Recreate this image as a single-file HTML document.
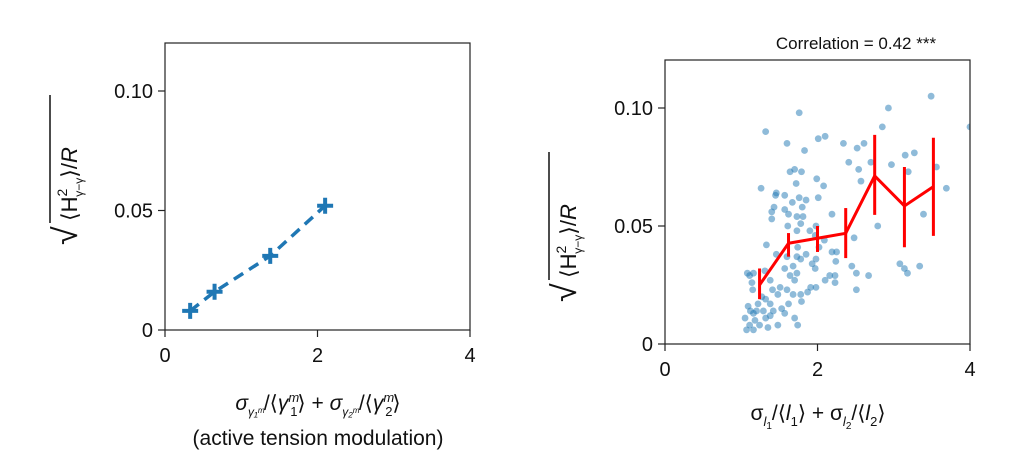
<!DOCTYPE html>
<html><head><meta charset="utf-8"><style>
html,body{margin:0;padding:0;background:#fff;}
svg{display:block;font-family:"Liberation Sans",sans-serif;}
</style></head><body>
<svg id="chart" width="1036" height="453" viewBox="0 0 1036 453" xmlns="http://www.w3.org/2000/svg">
<g id="left"></g>
<g id="right"></g>
<text x="856" y="49" font-size="17" text-anchor="middle" fill="#111">Correlation = 0.42 ***</text>
<g transform="translate(77,205) rotate(-90)" font-size="22" fill="#111">
<text x="-40" y="0" font-size="34">√</text>
<line x1="-18" y1="-27" x2="110" y2="-27" stroke="#111" stroke-width="1.5"/>
<text x="-16" y="0">⟨H<tspan font-size="14" dy="-10">2</tspan><tspan font-size="12" dx="-8" dy="16">γ−γ</tspan><tspan dy="-6">⟩/</tspan><tspan font-style="italic">R</tspan></text>
</g>
<g transform="translate(576,262) rotate(-90)" font-size="22" fill="#111">
<text x="-40" y="0" font-size="34">√</text>
<line x1="-18" y1="-27" x2="110" y2="-27" stroke="#111" stroke-width="1.5"/>
<text x="-16" y="0">⟨H<tspan font-size="14" dy="-10">2</tspan><tspan font-size="12" dx="-8" dy="16">γ−γ</tspan><tspan dy="-6">⟩/</tspan><tspan font-style="italic">R</tspan></text>
</g>
<text x="318" y="410" font-size="21" text-anchor="middle" fill="#111"><tspan font-style="italic">σ</tspan><tspan font-size="12" dy="6" font-style="italic">γ₁ᵐ</tspan><tspan dy="-6">/⟨</tspan><tspan font-style="italic">γ</tspan><tspan font-size="13" dy="-8" font-style="italic">m</tspan><tspan font-size="13" dx="-9" dy="14">1</tspan><tspan dy="-6">⟩ + </tspan><tspan font-style="italic">σ</tspan><tspan font-size="12" dy="6" font-style="italic">γ₂ᵐ</tspan><tspan dy="-6">/⟨</tspan><tspan font-style="italic">γ</tspan><tspan font-size="13" dy="-8" font-style="italic">m</tspan><tspan font-size="13" dx="-9" dy="14">2</tspan><tspan dy="-6">⟩</tspan></text>
<text x="318" y="445" font-size="21" text-anchor="middle" fill="#111">(active tension modulation)</text>
<text x="818" y="420" font-size="21" text-anchor="middle" fill="#111">σ<tspan font-size="13" dy="6" font-style="italic">l</tspan><tspan font-size="10" dy="3">1</tspan><tspan dy="-9">/⟨</tspan><tspan font-style="italic">l</tspan><tspan font-size="13" dy="6">1</tspan><tspan dy="-6">⟩ + σ</tspan><tspan font-size="13" dy="6" font-style="italic">l</tspan><tspan font-size="10" dy="3">2</tspan><tspan dy="-9">/⟨</tspan><tspan font-style="italic">l</tspan><tspan font-size="13" dy="6">2</tspan><tspan dy="-6">⟩</tspan></text>
</svg>
<script>
// Left panel data
const leftX = [0.33, 0.65, 1.38, 2.1];
const leftY = [0.008, 0.016, 0.031, 0.052];
// Right panel binned means
const binX = [1.24, 1.62, 2.0, 2.37, 2.75, 3.14, 3.52];
const binY = [0.025, 0.0427, 0.0448, 0.0469, 0.0712, 0.0585, 0.0667];
const binLo = [0.019, 0.037, 0.039, 0.0364, 0.0547, 0.041, 0.0458];
const binHi = [0.032, 0.047, 0.050, 0.0576, 0.0886, 0.075, 0.0874];
// Scatter
const scatX = [3.49,2.93,1.76,1.32,2.85,4.0,2.01,2.10,1.60,1.83,2.34,2.52,2.61,3.27,3.15,2.41,2.70,2.97,3.56,2.54,3.19,1.64,1.70,1.79,1.99,2.57,2.08,1.72,3.69,1.26,1.46,1.45,1.57,1.76,1.85,2.01,1.67,1.43,1.80,1.57,1.40,1.62,1.73,1.81,2.19,1.40,1.78,1.61,1.98,3.39,2.79,1.73,1.90,1.97,2.48,1.33,2.02,2.09,1.74,1.46,1.85,1.73,1.60,1.98,1.93,1.78,2.19,2.25,2.24,2.45,2.51,2.67,3.08,3.14,3.18,3.34,1.08,1.11,1.16,1.31,1.14,1.38,1.57,1.68,1.64,1.73,1.70,1.97,2.16,2.23,2.23,2.10,1.98,1.91,1.87,1.78,1.68,1.60,1.51,1.48,1.41,1.15,1.27,1.32,1.38,1.22,1.09,1.12,1.16,1.20,1.29,1.42,1.53,1.57,1.62,1.79,2.51,1.05,1.18,1.32,1.38,1.70,1.11,1.24,1.35,1.48,1.74,1.07,1.16];
const scatY = [0.105,0.100,0.098,0.090,0.092,0.092,0.087,0.088,0.085,0.082,0.085,0.083,0.085,0.081,0.080,0.077,0.077,0.076,0.075,0.074,0.073,0.073,0.074,0.073,0.070,0.069,0.067,0.068,0.066,0.066,0.064,0.063,0.063,0.062,0.061,0.062,0.060,0.058,0.058,0.057,0.056,0.055,0.054,0.054,0.055,0.053,0.051,0.050,0.050,0.055,0.050,0.048,0.048,0.046,0.045,0.042,0.041,0.044,0.041,0.038,0.038,0.037,0.037,0.036,0.034,0.036,0.039,0.039,0.035,0.033,0.030,0.029,0.034,0.032,0.030,0.033,0.030,0.029,0.030,0.031,0.026,0.027,0.032,0.033,0.029,0.030,0.027,0.032,0.029,0.029,0.026,0.027,0.024,0.024,0.022,0.021,0.021,0.023,0.024,0.021,0.023,0.023,0.020,0.019,0.017,0.017,0.016,0.014,0.013,0.014,0.014,0.014,0.015,0.013,0.017,0.018,0.023,0.011,0.010,0.011,0.012,0.011,0.008,0.008,0.007,0.008,0.008,0.006,0.006];
const xTicks = [0, 2, 4];
const yTicks = [0, 0.05, 0.10];
const yTickLabels = ["0", "0.05", "0.10"];

const NS = "http://www.w3.org/2000/svg";
function mk(parent, tag, attrs) {
  const e = document.createElementNS(NS, tag);
  for (const k in attrs) e.setAttribute(k, attrs[k]);
  parent.appendChild(e);
  return e;
}
function axes(g, box, sx, sy, prefix) {
  const f = mk(g, "rect", {x: box.x0, y: box.y1, width: box.x1 - box.x0, height: box.y0 - box.y1, fill: "none", stroke: "#222", "stroke-width": 1.2});
  
  
  xTicks.forEach(t => {
    const l = mk(g, "line", {x1: sx(t), x2: sx(t), y1: box.y0, y2: box.y0 + 7, stroke: "#222", "stroke-width": 1.2});
    
    
    const tx = mk(g, "text", {x: sx(t), y: box.y0 + 32, "font-size": 20, "text-anchor": "middle", fill: "#111"});
    tx.textContent = String(t);
    
    
  });
  yTicks.forEach((t, i) => {
    const l = mk(g, "line", {x1: box.x0 - 7, x2: box.x0, y1: sy(t), y2: sy(t), stroke: "#222", "stroke-width": 1.2});
    
    
    const tx = mk(g, "text", {x: box.x0 - 12, y: sy(t) + 7, "font-size": 20, "text-anchor": "end", fill: "#111"});
    tx.textContent = yTickLabels[i];
    
    
  });
}
// Left
const LB = {x0: 165, x1: 470, y0: 330, y1: 43};
const lsx = v => LB.x0 + v / 4 * (LB.x1 - LB.x0);
const lsy = v => LB.y0 - v / 0.05 * 119.5;
const lg = document.getElementById("left");
axes(lg, LB, lsx, lsy, "left");
const lline = mk(lg, "polyline", {points: leftX.map((x, i) => lsx(x) + "," + lsy(leftY[i])).join(" "), fill: "none", stroke: "#1f77b4", "stroke-width": 3.5, "stroke-dasharray": "11,7"});


leftX.forEach((x, i) => {
  const cx = lsx(x), cy = lsy(leftY[i]);
  const p = mk(lg, "path", {d: `M${cx-8},${cy}H${cx+8}M${cx},${cy-8}V${cy+8}`, stroke: "#1f77b4", "stroke-width": 4});
  
  
});
// Right
const RB = {x0: 665, x1: 970, y0: 344, y1: 60};
const rsx = v => RB.x0 + v / 4 * (RB.x1 - RB.x0);
const rsy = v => RB.y0 - v / 0.10 * 236;
const rg = document.getElementById("right");
const clip = mk(rg, "clipPath", {id: "rclip"});
mk(clip, "rect", {x: RB.x0, y: RB.y1, width: RB.x1 - RB.x0, height: RB.y0 - RB.y1});
const pts = mk(rg, "g", {"clip-path": "url(#rclip)"});


scatX.forEach((x, i) => {
  const c = mk(pts, "circle", {cx: rsx(x), cy: rsy(scatY[i]), r: 3.4, fill: "#1f77b4", "fill-opacity": 0.5});
  
  
});
axes(rg, RB, rsx, rsy, "right");
binX.forEach((x, i) => {
  const l = mk(rg, "line", {x1: rsx(x), x2: rsx(x), y1: rsy(binLo[i]), y2: rsy(binHi[i]), stroke: "#f00", "stroke-width": 3});
  
  
});
const rl = mk(rg, "polyline", {points: binX.map((x, i) => rsx(x) + "," + rsy(binY[i])).join(" "), fill: "none", stroke: "#f00", "stroke-width": 3});


</script>
</body></html>
